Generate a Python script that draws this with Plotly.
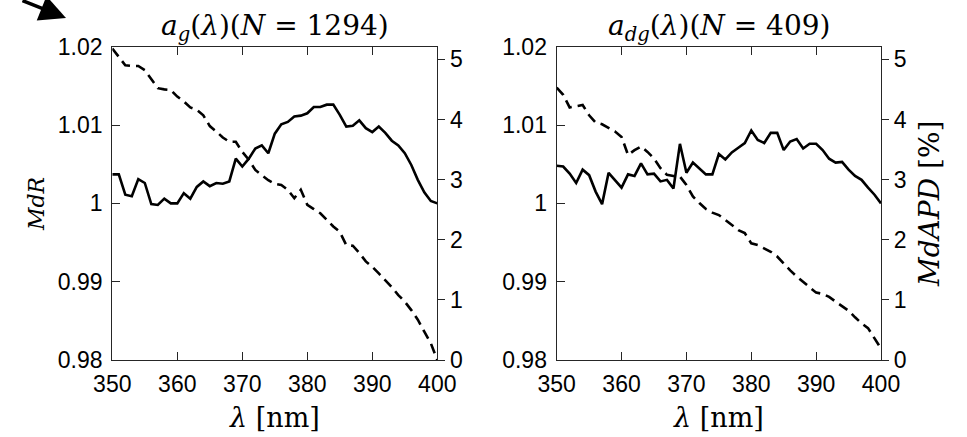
import plotly.graph_objects as go

wavelength = list(range(350, 401))

mdr_ag = [1.0037, 1.0037, 1.0011, 1.0009, 1.0031, 1.0026, 0.9999, 0.9998, 1.0006, 1.0000,
          1.0000, 1.0013, 1.0006, 1.0021, 1.0028, 1.0022, 1.0026, 1.0025, 1.0028, 1.0057,
          1.0047, 1.0057, 1.0070, 1.0074, 1.0064, 1.0089, 1.0101, 1.0104, 1.0111, 1.0112,
          1.0115, 1.0123, 1.0123, 1.0126, 1.0126, 1.0113, 1.0098, 1.0099, 1.0106, 1.0096,
          1.0091, 1.0098, 1.0090, 1.0080, 1.0074, 1.0064, 1.0049, 1.0030, 1.0014, 1.0003,
          1.0000]

mdapd_ag = [5.18, 5.04, 4.90, 4.89, 4.89, 4.82, 4.68, 4.52, 4.50, 4.49,
            4.38, 4.30, 4.20, 4.16, 4.07, 3.89, 3.80, 3.70, 3.63, 3.63,
            3.46, 3.33, 3.16, 3.08, 2.99, 2.93, 2.91, 2.83, 2.69, 2.83,
            2.58, 2.51, 2.44, 2.33, 2.22, 2.13, 1.91, 1.90, 1.78, 1.64,
            1.55, 1.44, 1.33, 1.21, 1.08, 0.97, 0.83, 0.67, 0.47, 0.28,
            0.00]

mdr_adg = [1.0048, 1.0047, 1.0038, 1.0026, 1.0043, 1.0036, 1.0015, 0.9999, 1.0039, 1.0030,
           1.0020, 1.0037, 1.0035, 1.0051, 1.0037, 1.0038, 1.0028, 1.0030, 1.0019, 1.0076,
           1.0039, 1.0052, 1.0045, 1.0037, 1.0037, 1.0063, 1.0056, 1.0065, 1.0071, 1.0077,
           1.0093, 1.0081, 1.0077, 1.0090, 1.0090, 1.0068, 1.0079, 1.0082, 1.0070, 1.0076,
           1.0076, 1.0068, 1.0057, 1.0052, 1.0053, 1.0043, 1.0035, 1.0030, 1.0020, 1.0011,
           1.0000]

mdapd_adg = [4.53, 4.41, 4.20, 4.22, 4.24, 4.07, 3.95, 3.92, 3.86, 3.80,
             3.71, 3.41, 3.49, 3.55, 3.46, 3.35, 3.19, 3.08, 3.06, 3.05,
             2.91, 2.72, 2.61, 2.51, 2.45, 2.41, 2.33, 2.25, 2.16, 2.11,
             1.94, 1.91, 1.86, 1.80, 1.72, 1.60, 1.49, 1.39, 1.30, 1.21,
             1.12, 1.10, 1.05, 0.97, 0.90, 0.82, 0.71, 0.61, 0.53, 0.36,
             0.19]

x_ticks = [350, 360, 370, 380, 390, 400]
mdr_ticks = [0.98, 0.99, 1.0, 1.01, 1.02]
mdr_ticktext = ["0.98", "0.99", "1", "1.01", "1.02"]
mdapd_ticks = [0, 1, 2, 3, 4, 5]

titles = ["<i>a</i><sub><i>g</i></sub>(<i>λ</i>)(<i>N</i>&nbsp;=&nbsp;1294)",
          "<i>a</i><sub><i>dg</i></sub>(<i>λ</i>)(<i>N</i>&nbsp;=&nbsp;409)"]

W, H = 967, 437
AX = "#262626"
SANS = "Liberation Sans, Arial, sans-serif"
SERIF = "DejaVu Serif, serif"

fig = go.Figure()

line_solid = dict(color="black", width=2.6)
line_dash = dict(color="black", width=2.6, dash="10px,6px")

fig.add_trace(go.Scatter(x=wavelength, y=mdr_ag, mode="lines", line=line_solid, xaxis="x", yaxis="y"))
fig.add_trace(go.Scatter(x=wavelength, y=mdapd_ag, mode="lines", line=line_dash, xaxis="x", yaxis="y2"))
fig.add_trace(go.Scatter(x=wavelength, y=mdr_adg, mode="lines", line=line_solid, xaxis="x2", yaxis="y3"))
fig.add_trace(go.Scatter(x=wavelength, y=mdapd_adg, mode="lines", line=line_dash, xaxis="x2", yaxis="y4"))

top = 1 - 46.7 / H
bot = 1 - 360 / H
dom1 = [112.3 / W, 437.3 / W]
dom2 = [556.7 / W, 881 / W]

tickfont = dict(family=SANS, size=23, color="black")

def xax(domain, anchor):
    return dict(domain=domain, anchor=anchor, range=[350, 400], tickvals=x_ticks,
                ticks="inside", ticklen=8, tickwidth=1.3, tickcolor=AX,
                showline=True, linecolor=AX, linewidth=1.3, mirror="ticks",
                showgrid=False, zeroline=False, tickfont=tickfont,
                ticklabelstandoff=3, automargin=False)

def yleft(anchor):
    return dict(domain=[bot, top], anchor=anchor, range=[0.98, 1.02], tickvals=mdr_ticks,
                ticktext=mdr_ticktext, ticks="inside", ticklen=8, tickwidth=1.3, tickcolor=AX,
                showline=True, linecolor=AX, linewidth=1.3, showgrid=False, zeroline=False,
                tickfont=tickfont, ticklabelstandoff=4, automargin=False)

def yright(anchor, overlay):
    return dict(domain=[bot, top], anchor=anchor, overlaying=overlay, side="right",
                range=[0, 5.21], tickvals=mdapd_ticks, ticks="outside", ticklen=7, tickwidth=1.3,
                tickcolor=AX, showline=True, linecolor=AX, linewidth=1.3, showgrid=False,
                zeroline=False, tickfont=tickfont, automargin=False)

fig.update_layout(
    width=W, height=H,
    margin=dict(l=0, r=0, t=0, b=0, pad=0, autoexpand=False),
    paper_bgcolor="white", plot_bgcolor="white",
    showlegend=False,
    xaxis=xax(dom1, "y"),
    yaxis=yleft("x"),
    yaxis2=yright("x", "y"),
    xaxis2=xax(dom2, "y3"),
    yaxis3=yleft("x2"),
    yaxis4=yright("x2", "y3"),
)

def px(xp, yp):
    return xp / W, 1 - yp / H

for i, dom in enumerate([dom1, dom2]):
    cx = (dom[0] + dom[1]) / 2
    fig.add_annotation(x=cx, y=1 - 27 / H, xref="paper", yref="paper",
                       text=titles[i], showarrow=False, xanchor="center", yanchor="middle",
                       font=dict(family=SERIF, size=28, color="black"))
    fig.add_annotation(x=cx, y=1 - 417 / H, xref="paper", yref="paper",
                       text="<i>λ</i> [nm]", showarrow=False, xanchor="center", yanchor="middle",
                       font=dict(family=SERIF, size=27, color="black"))

# y-axis titles
x0, y0 = px(36, 204)
fig.add_annotation(x=x0, y=y0, xref="paper", yref="paper", text="<i>MdR</i>", textangle=-90,
                   showarrow=False, xanchor="center", yanchor="middle",
                   font=dict(family=SERIF, size=22, color="black"))
x0, y0 = px(929, 204)
fig.add_annotation(x=x0, y=y0, xref="paper", yref="paper", text="<i>MdAPD</i> [%]", textangle=-90,
                   showarrow=False, xanchor="center", yanchor="middle",
                   font=dict(family=SERIF, size=28, color="black"))

# partial arrow in the top-left corner
x0, y0 = px(66, 18)
fig.add_annotation(x=x0, y=y0, xref="paper", yref="paper", text="",
                   showarrow=True, arrowhead=2, arrowsize=1.5, arrowwidth=3.5,
                   arrowcolor="black", ax=-45, ay=-36)

fig.write_html("out.html", config={"displayModeBar": False},
               post_script="document.body.style.margin='0';")
